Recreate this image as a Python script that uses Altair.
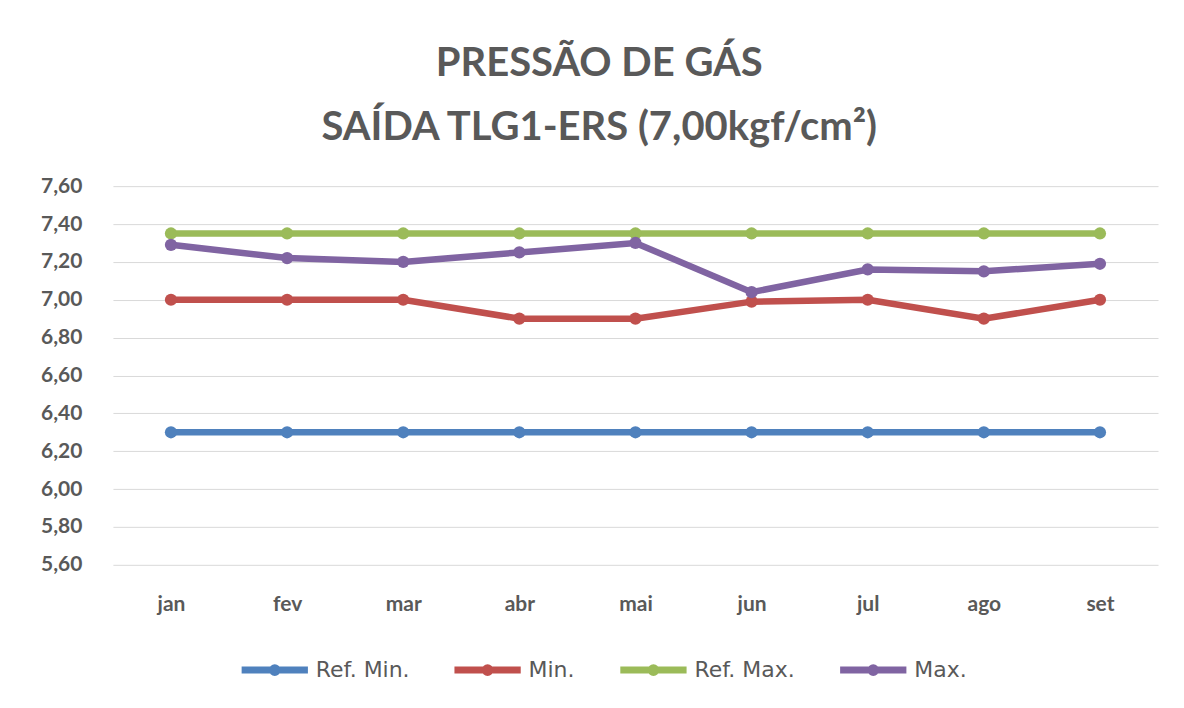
import altair as alt
import pandas as pd

months = ["jan", "fev", "mar", "abr", "mai", "jun", "jul", "ago", "set"]
ref_min = [6.30, 6.30, 6.30, 6.30, 6.30, 6.30, 6.30, 6.30, 6.30]
minimo = [7.00, 7.00, 7.00, 6.90, 6.90, 6.99, 7.00, 6.90, 7.00]
ref_max = [7.35, 7.35, 7.35, 7.35, 7.35, 7.35, 7.35, 7.35, 7.35]
maximo = [7.29, 7.22, 7.20, 7.25, 7.30, 7.04, 7.16, 7.15, 7.19]

series_names = ["Ref. Min.", "Min.", "Ref. Max.", "Max."]
series_colors = ["#4F81BD", "#C0504D", "#9BBB59", "#8064A2"]
y_ticks = [5.6, 5.8, 6.0, 6.2, 6.4, 6.6, 6.8, 7.0, 7.2, 7.4, 7.6]
title_lines = ["PRESSÃO DE GÁS", "SAÍDA TLG1-ERS (7,00kgf/cm²)"]

rows = []
for name, vals in zip(series_names, [ref_min, minimo, ref_max, maximo]):
    for i, (m, v) in enumerate(zip(months, vals)):
        rows.append({"month": m, "value": v, "series": name, "idx": i})
df = pd.DataFrame(rows)

FONT = "Lato"
GRAY = "#595959"

legend_symbol = "M-1,0L1,0M-0.07,0A0.07,0.07 0 1,0 0.07,0A0.07,0.07 0 1,0 -0.07,0"

chart = alt.Chart(df).mark_line(
    strokeWidth=6.5,
    strokeCap="round",
    point=alt.OverlayMarkDef(size=150, filled=True, opacity=1),
).encode(
    x=alt.X("month:N", sort=months,
            axis=alt.Axis(title=None, labelAngle=0, domain=False, ticks=False,
                          labelFont=FONT, labelFontSize=21, labelFontWeight="bold",
                          labelColor=GRAY, labelPadding=29, grid=False)),
    y=alt.Y("value:Q",
            scale=alt.Scale(domain=[5.6, 7.6], nice=False, zero=False),
            axis=alt.Axis(title=None, values=y_ticks, domain=False, ticks=False,
                          labelExpr="replace(format(datum.value, '.2f'), '.', ',')",
                          labelFont=FONT, labelFontSize=21, labelFontWeight="bold",
                          labelColor=GRAY, labelPadding=31,
                          gridColor="#D9D9D9", gridWidth=1)),
    color=alt.Color("series:N",
                    scale=alt.Scale(domain=series_names, range=series_colors),
                    legend=alt.Legend(title=None, orient="none", direction="horizontal",
                                      legendX=125, legendY=447, padding=0,
                                      symbolType=legend_symbol, symbolSize=4400,
                                      symbolStrokeWidth=7, symbolOpacity=1,
                                      labelFont="DejaVu Sans", labelFontSize=22,
                                      labelColor=GRAY, columnPadding=30,
                                      labelOffset=4)),
    order=alt.Order("idx:Q"),
).properties(
    width=1046,
    height=379,
    background="white",
    title=alt.TitleParams(text=title_lines, font=FONT, fontSize=40,
                          fontWeight="bold", color=GRAY, lineHeight=64,
                          anchor="middle", frame="bounds", offset=27),
    padding={"left": 32, "top": 36, "right": 18, "bottom": 10},
).configure_view(
    stroke=None
)

chart.save("out.html", embed_options={"renderer": "svg", "actions": False})
